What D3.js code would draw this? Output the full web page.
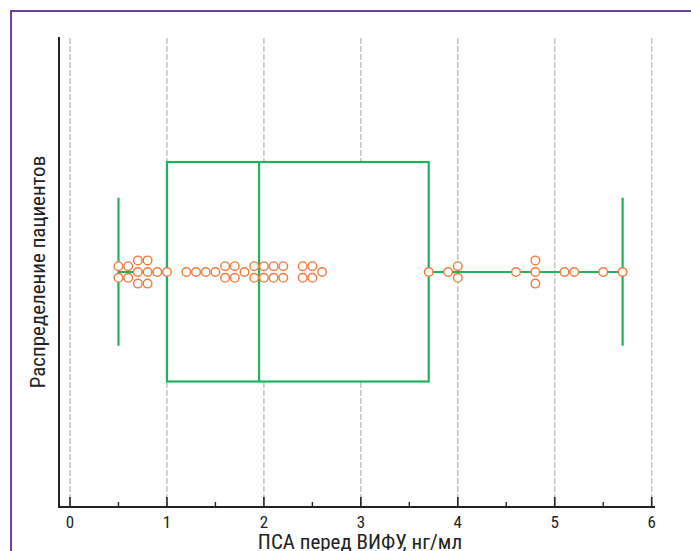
<!DOCTYPE html>
<html>
<head>
<meta charset="utf-8">
<script src="https://cdn.jsdelivr.net/npm/d3@7"></script>
<style>
  html, body { margin: 0; padding: 0; background: #fff; }
  svg { display: block; }
  .lbl { font-family: "Liberation Sans Narrow", "Roboto Condensed", "Liberation Sans", sans-serif; fill: #222; }
</style>
</head>
<body>
<svg id="chart"></svg>
<script>
// PSA values of each patient (ng/ml)
const psaValues = [
  0.5, 0.5, 0.6, 0.6, 0.7, 0.7, 0.7, 0.8, 0.8, 0.8, 0.9, 1.0,
  1.2, 1.3, 1.4, 1.5, 1.6, 1.6, 1.7, 1.7, 1.8, 1.9, 1.9,
  2.0, 2.0, 2.1, 2.1, 2.2, 2.2, 2.4, 2.4, 2.5, 2.5, 2.6,
  3.7, 3.9, 4.0, 4.0, 4.6, 4.8, 4.8, 4.8, 5.1, 5.2, 5.5, 5.7
];
// box plot summary
const boxStats = { low: 0.5, q1: 1.0, median: 1.95, q3: 3.7, high: 5.7 };
const xTicks = [0, 1, 2, 3, 4, 5, 6];
const xMinorTicks = [0.5, 1.5, 2.5, 3.5, 4.5, 5.5];
const xTitle = "ПСА перед ВИФУ, нг/мл";
const yTitle = "Распределение пациентов";

const W = 691, H = 551;
const margin = { top: 37, right: 36, bottom: 44, left: 59 };

const svg = d3.select('#chart').attr('width', W).attr('height', H);

// purple frame, cut by the window on the right and bottom
svg.append('rect')
  .attr('x', 11).attr('y', 11)
  .attr('width', W + 20).attr('height', H + 20)
  .attr('fill', 'none')
  .attr('stroke', '#6b3fa0')
  .attr('stroke-width', 2);

const x = d3.scaleLinear().domain([0, 6]).range([70, 651.7]);
const y = d3.scaleLinear().domain([0, 1]).range([H - margin.bottom, margin.top]);
const yMid = y(0.5);

// dashed grid
svg.append('g').selectAll('line')
  .data(xTicks)
  .enter().append('line')
  .attr('x1', d => x(d)).attr('x2', d => x(d))
  .attr('y1', margin.top + 1).attr('y2', y(0) - 2)
  .attr('stroke', '#c4c4c4')
  .attr('stroke-width', 1.5)
  .attr('stroke-dasharray', '6,2');

const green = '#1db45a';
const g = svg.append('g').attr('stroke', green).attr('stroke-width', 2.2);

// whiskers
g.append('line')
  .attr('x1', x(boxStats.low)).attr('x2', x(boxStats.high))
  .attr('y1', yMid).attr('y2', yMid);
[boxStats.low, boxStats.high].forEach(v => {
  g.append('line')
    .attr('x1', x(v)).attr('x2', x(v))
    .attr('y1', y(0.658)).attr('y2', y(0.343));
});

// box
g.append('rect')
  .attr('x', x(boxStats.q1))
  .attr('y', y(0.734))
  .attr('width', x(boxStats.q3) - x(boxStats.q1))
  .attr('height', y(0.267) - y(0.734))
  .attr('fill', '#fff');
g.append('line')
  .attr('x1', x(boxStats.median)).attr('x2', x(boxStats.median))
  .attr('y1', y(0.734)).attr('y2', y(0.267));

// stack equal values vertically around the middle
const groups = d3.groups(psaValues, d => d);
const points = [];
groups.forEach(([v, arr]) => {
  arr.forEach((d, i) => points.push({ v: d, off: (i - (arr.length - 1) / 2) * 11.6 }));
});

svg.append('g').selectAll('circle')
  .data(points)
  .enter().append('circle')
  .attr('cx', d => x(d.v))
  .attr('cy', d => yMid + d.off)
  .attr('r', 4.3)
  .attr('fill', '#fff')
  .attr('stroke', '#f07a3a')
  .attr('stroke-width', 1.4);

// axes
const axisG = svg.append('g');
axisG.append('line')
  .attr('x1', margin.left - 1).attr('x2', 655)
  .attr('y1', y(0)).attr('y2', y(0))
  .attr('stroke', '#222').attr('stroke-width', 2);
axisG.append('line')
  .attr('x1', margin.left).attr('x2', margin.left)
  .attr('y1', margin.top).attr('y2', y(0))
  .attr('stroke', '#222').attr('stroke-width', 2);

axisG.selectAll('.maj')
  .data(xTicks)
  .enter().append('line')
  .attr('x1', d => x(d)).attr('x2', d => x(d))
  .attr('y1', y(0)).attr('y2', y(0) - 10)
  .attr('stroke', '#222').attr('stroke-width', 1.6);
axisG.selectAll('.min')
  .data(xMinorTicks)
  .enter().append('line')
  .attr('x1', d => x(d)).attr('x2', d => x(d))
  .attr('y1', y(0)).attr('y2', y(0) - 5)
  .attr('stroke', '#222').attr('stroke-width', 1.4);

axisG.selectAll('text.tick')
  .data(xTicks)
  .enter().append('text')
  .attr('class', 'lbl')
  .attr('x', d => x(d))
  .attr('y', y(0) + 21)
  .attr('text-anchor', 'middle')
  .style('font-size', '17px')
  .text(d => d);

svg.append('text')
  .attr('class', 'lbl')
  .attr('x', 360)
  .attr('y', 549)
  .attr('text-anchor', 'middle')
  .style('font-size', '21px')
  .text(xTitle);

svg.append('text')
  .attr('class', 'lbl')
  .attr('transform', `translate(45, ${yMid}) rotate(-90)`)
  .attr('text-anchor', 'middle')
  .style('font-size', '21px')
  .text(yTitle);
</script>
</body>
</html>
